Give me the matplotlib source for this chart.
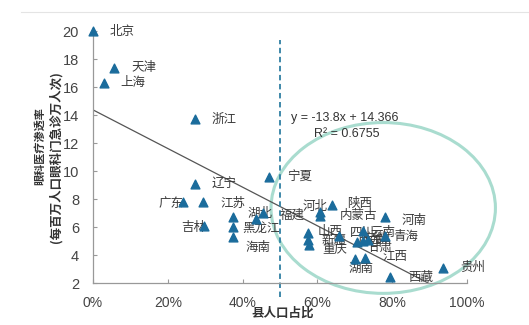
import matplotlib.pyplot as plt
from matplotlib.patches import Ellipse
from matplotlib.ticker import PercentFormatter

plt.rcParams['font.family'] = ['Liberation Sans', 'Noto Sans CJK SC', 'DejaVu Sans']

# 各省县人口占比 vs 眼科医疗渗透率
provinces = ["北京", "天津", "上海", "浙江", "辽宁", "广东", "江苏", "吉林",
             "山东", "黑龙江", "海南", "福建", "湖北", "宁夏", "河北", "陕西",
             "内蒙古", "新疆", "重庆", "广西", "山西", "四川", "甘肃", "安徽",
             "云南", "河南", "青海", "湖南", "江西", "西藏", "贵州"]
county_share = [0.0, 0.056, 0.03, 0.273, 0.273, 0.24, 0.293, 0.297,
                0.375, 0.375, 0.375, 0.436, 0.455, 0.471, 0.607, 0.607,
                0.64, 0.575, 0.575, 0.578, 0.658, 0.722, 0.705, 0.722,
                0.735, 0.78, 0.78, 0.70, 0.727, 0.794, 0.936]
penetration = [20.0, 17.35, 16.3, 13.7, 9.05, 7.8, 7.8, 6.05,
               6.7, 6.0, 5.3, 6.6, 7.0, 9.57, 7.1, 6.8,
               7.57, 5.57, 5.07, 4.7, 5.36, 5.7, 4.9, 5.0,
               5.07, 6.7, 5.36, 3.7, 3.8, 2.4, 3.1]

slope, intercept, r2 = -13.8, 14.366, 0.6755

# label anchor (left edge) for each province name
label_pos = {
    "北京": (0.045, 20.0), "天津": (0.102, 17.36), "上海": (0.072, 16.29),
    "浙江": (0.316, 13.71), "辽宁": (0.316, 9.14), "广东": (0.174, 7.71),
    "江苏": (0.34, 7.71), "吉林": (0.235, 6.0), "黑龙江": (0.40, 5.93),
    "海南": (0.409, 4.57), "湖北": (0.414, 7.0), "宁夏": (0.519, 9.57),
    "福建": (0.50, 6.86), "河北": (0.561, 7.43), "陕西": (0.679, 7.71),
    "内蒙古": (0.66, 6.79), "河南": (0.826, 6.5), "山西": (0.60, 5.71),
    "四川": (0.687, 5.64), "云南": (0.741, 5.64), "青海": (0.802, 5.29),
    "新疆": (0.612, 5.07), "重庆": (0.612, 4.36), "广西": (0.706, 4.86),
    "甘肃": (0.733, 4.57), "安徽": (0.72, 5.2), "湖南": (0.682, 3.07),
    "江西": (0.775, 3.86), "西藏": (0.842, 2.43), "贵州": (0.981, 3.14),
}

fig = plt.figure(figsize=(5.29, 3.25), dpi=100)
ax = fig.add_axes([0.1758, 0.1292, 0.707, 0.7754])

fig.add_artist(plt.Line2D([0.04, 1.0], [0.963, 0.963], color="#e4e4e4", lw=0.8))

ax.set_xlim(0, 1)
ax.set_ylim(2, 20)
ax.set_xticks([0, 0.2, 0.4, 0.6, 0.8, 1.0])
ax.set_yticks(range(2, 21, 2))
ax.xaxis.set_major_formatter(PercentFormatter(1.0, decimals=0))
ax.tick_params(direction="in", length=3, color="#999999",
               labelcolor="#444444")
ax.tick_params(axis="x", pad=9, labelsize=10)
ax.tick_params(axis="y", pad=10, labelsize=10.5)
for s in ["top", "right"]:
    ax.spines[s].set_visible(False)
for s in ["left", "bottom"]:
    ax.spines[s].set_color("#999999")
    ax.spines[s].set_linewidth(0.9)

# trend line
xs = [0.0, 0.9]
ax.plot(xs, [slope * x + intercept for x in xs], color="#555555", lw=0.9)

# 50% split
ax.plot([0.5, 0.5], [1.0, 19.36], color="#2f7fa3", lw=1.3, ls=(0, (3, 2)),
        clip_on=False)

ax.add_patch(Ellipse((0.776, 7.36), 0.60, 12.2, fill=False,
                     edgecolor="#a9dccf", lw=2.2, clip_on=False))

ax.scatter(county_share, penetration, marker="^", s=40, color="#1b6c9c",
           zorder=3, clip_on=False)

for name in provinces:
    if name in label_pos:
        lx, ly = label_pos[name]
        ax.text(lx, ly, name, fontsize=9, color="#3a3a3a", ha="left",
                va="center", family=["Noto Sans CJK SC"], zorder=2)

ax.text(0.53, 13.78, f"y = {slope}x + {intercept}", fontsize=9,
        color="#333333", va="center")
ax.text(0.59, 12.64, f"R² = {r2}", fontsize=9, color="#333333", va="center")

fig.text(0.535, 0.037, "县人口占比", ha="center", va="center", fontsize=9,
         fontweight="bold", color="#333333", family=["Noto Sans CJK SC"])
fig.text(0.074, 0.55, "眼科医疗渗透率", rotation=90, ha="center", va="center",
         fontsize=8, fontweight="bold", color="#333333",
         family=["Noto Sans CJK SC"])
fig.text(0.106, 0.516, "(每百万人口眼科门急诊万人次)", rotation=90, ha="center",
         va="center", fontsize=9, fontweight="bold", color="#333333",
         family=["Noto Sans CJK SC"])

fig.savefig("out.png", dpi=100)
